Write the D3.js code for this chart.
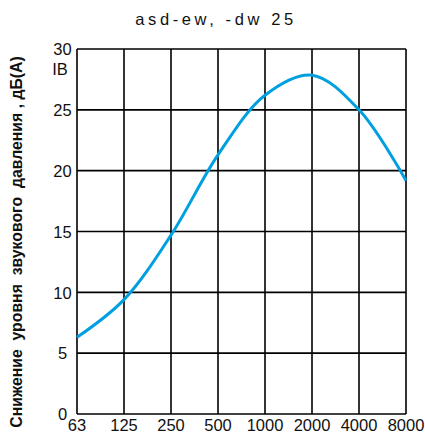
<!DOCTYPE html>
<html><head><meta charset="utf-8">
<script src="https://cdn.jsdelivr.net/npm/d3@7"></script>
<style>body{margin:0;background:#fff}svg{display:block}</style>
</head><body>
<svg id="c" width="425" height="437"></svg>
<script>
const categories = ["63","125","250","500","1000","2000","4000","8000"];
const values = [6.3, 9.4, 14.7, 21.3, 26.2, 27.85, 25.0, 19.2];
const yTicks = [0,5,10,15,20,25,30];
const title = "asd-ew, -dw 25";
const yLabel = "Снижение  уровня  звукового  давления , дБ(А)";
const unitLabel = "IB";

const svg = d3.select("#c");
const mLeft = 77, mRight = 406, mTop = 49, mBottom = 414;
const x = d3.scalePoint().domain(categories).range([mLeft, mRight]);
const y = d3.scaleLinear().domain([0,30]).range([mBottom, mTop]);
const font = "Liberation Sans, Arial, sans-serif";

// grid
svg.append("g").selectAll("line").data(categories).join("line")
  .attr("x1", d=>x(d)).attr("x2", d=>x(d)).attr("y1", mTop).attr("y2", mBottom)
  .attr("stroke", "#000").attr("stroke-width", 1.6);
svg.append("g").selectAll("line").data(yTicks).join("line")
  .attr("x1", mLeft).attr("x2", mRight).attr("y1", d=>y(d)).attr("y2", d=>y(d))
  .attr("stroke", "#000").attr("stroke-width", 1.6);

// curve
const line = d3.line().x((d,i)=>x(categories[i])).y(d=>y(d)).curve(d3.curveCatmullRom.alpha(0.5));
svg.append("path").datum(values).attr("d", line)
  .attr("fill","none").attr("stroke","#00a0e0").attr("stroke-width",3);

// y tick labels
svg.append("g").selectAll("text").data(yTicks).join("text")
  .attr("x", 62.5).attr("y", d=>y(d)).attr("dy","0.38em").attr("text-anchor","middle")
  .attr("font-family", font).attr("font-size", 16.5).attr("fill","#111").text(d=>d);
// x tick labels
svg.append("g").selectAll("text").data(categories).join("text")
  .attr("x", d=>x(d)).attr("y", 431).attr("text-anchor","middle")
  .attr("font-family", font).attr("font-size", 16.5).attr("fill","#111").text(d=>d);

svg.append("text").attr("x", 60).attr("y", 75).attr("text-anchor","middle")
  .attr("font-family", font).attr("font-size", 16.5).attr("fill","#111").text(unitLabel);

svg.append("text").attr("x", 216).attr("y", 25).attr("text-anchor","middle")
  .attr("font-family", font).attr("font-size", 16.5).attr("letter-spacing", 3.6)
  .attr("fill","#111").text(title);

svg.append("text").attr("transform","translate(22,242) rotate(-90)")
  .attr("text-anchor","middle").attr("font-family", font).attr("font-size", 15.8)
  .attr("font-weight","bold").attr("fill","#111").style("white-space","pre").text(yLabel);
</script>
</body></html>
